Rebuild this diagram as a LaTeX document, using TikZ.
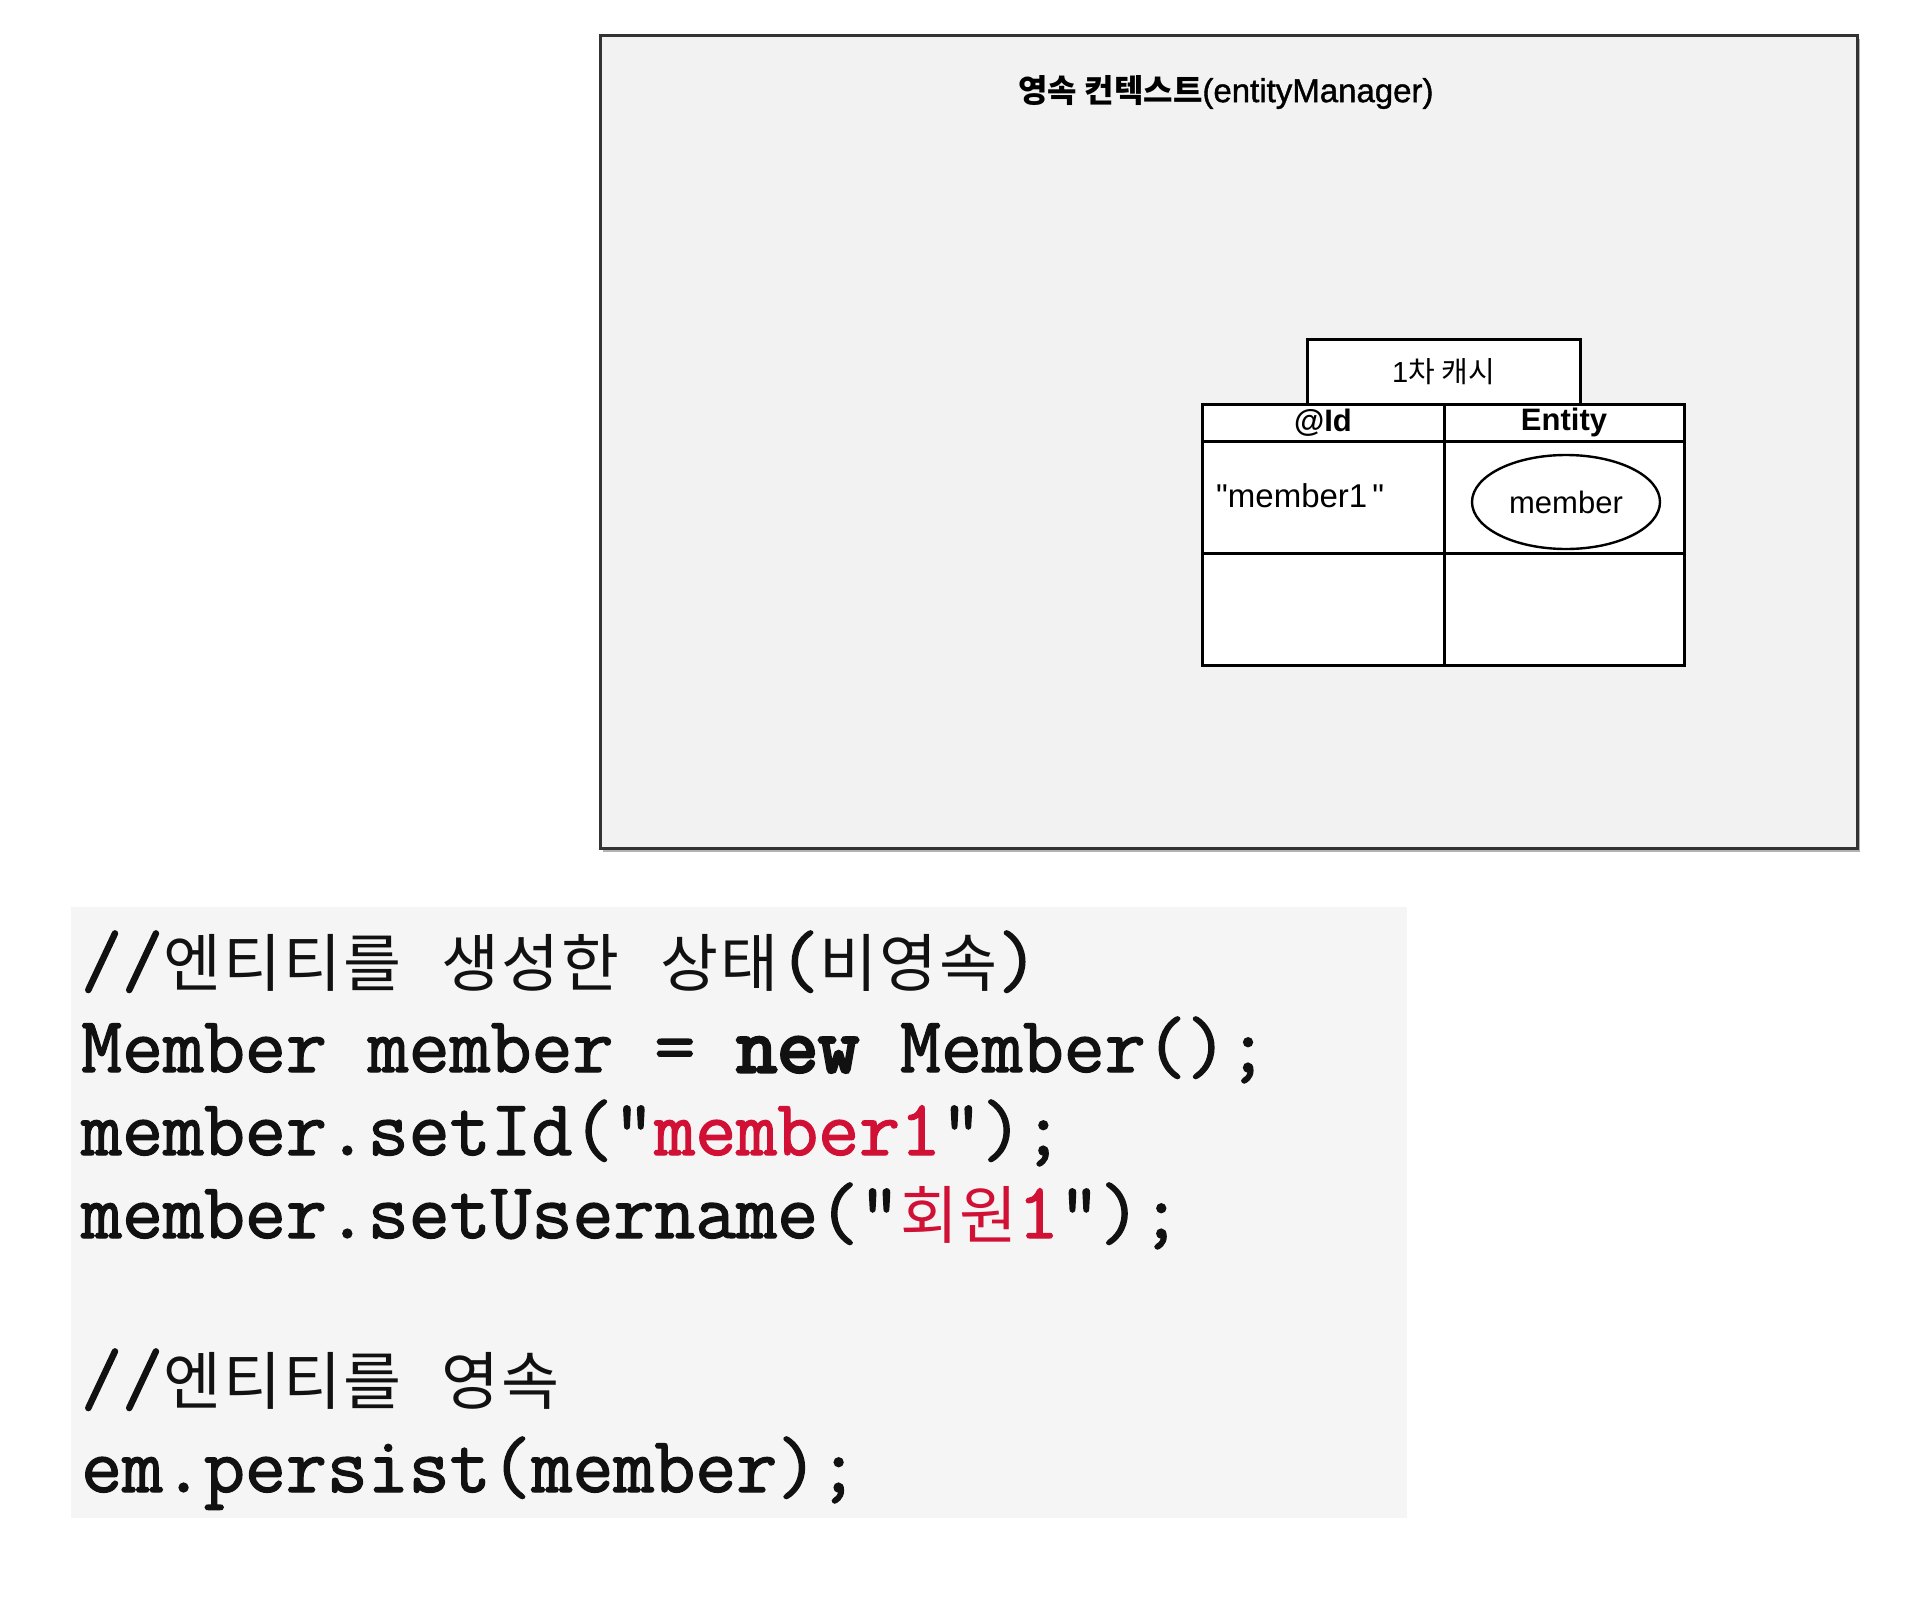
\documentclass[tikz,border=0pt]{standalone}
\usepackage{fontspec}
\setmainfont{Liberation Sans}[Ligatures=TeXOff]
\newfontfamily\cjk{Noto Sans CJK KR}[Ligatures=TeXOff]
\newfontfamily\cjkcode{Noto Sans CJK KR}[Ligatures=TeXOff,LetterSpace=3.2]
\newfontfamily\sansmed{Liberation Sans}[Ligatures=TeXOff,FakeBold=1.2]
\newfontfamily\code{Latin Modern Mono}[Ligatures=TeXOff,FakeBold=1.6]
\newfontfamily\codeheavy{Latin Modern Mono}[Ligatures=TeXOff,FakeBold=4]
\usetikzlibrary{shapes.geometric}
\definecolor{boxfill}{HTML}{F2F2F2}
\definecolor{codebg}{HTML}{F5F5F5}
\definecolor{strred}{RGB}{208,16,52}
\definecolor{ink}{HTML}{111111}
\newcommand\hk[1]{{\cjkcode\fontsize{63}{65}\selectfont #1}}
\newcommand\codefont{\code\fontsize{79.5}{82}\selectfont}
\tikzset{
  cell/.style={draw=black, line width=3pt, fill=white, inner sep=0pt, outer sep=0pt},
  codeline/.style={anchor=base west, inner sep=0pt, text=ink, font=\codefont},
  lbl/.style={inner sep=0pt, font=\fontsize{31}{34}\selectfont},
}
\begin{document}
\begin{tikzpicture}[x=1pt,y=-1pt]
\useasboundingbox[fill=white] (0,0) rectangle (1920,1603);
% persistence context box
\fill[gray!60] (603,39) rectangle (1860,852);
\node[draw=black!80, line width=3pt, fill=boxfill, inner sep=0pt,
      minimum width=1257pt, minimum height=813pt, anchor=north west] (pc) at (599,34) {};
\node[lbl, font=\sansmed\fontsize{33}{35}\selectfont] (title) at (1226,92)
  {{\cjk\bfseries\fontsize{32}{34}\selectfont 영속 컨텍스트}(entityManager)};
% first-level cache
\node[cell, minimum width=273pt, minimum height=65pt, anchor=north west] (cache) at (1307,339) {};
\node[lbl, font=\fontsize{29}{30}\selectfont] (cachelbl) at (cache.center) {1{\cjk 차 캐시}};
\node[cell, minimum width=242pt, minimum height=37pt, anchor=north west] (idh) at (1202,404) {};
\node[cell, minimum width=240pt, minimum height=37pt, anchor=north west] (enth) at (1444,404) {};
\node[cell, minimum width=242pt, minimum height=112pt, anchor=north west] (idv) at (1202,441) {};
\node[cell, minimum width=240pt, minimum height=112pt, anchor=north west] (entv) at (1444,441) {};
\node[cell, minimum width=242pt, minimum height=112pt, anchor=north west] (idv2) at (1202,553) {};
\node[cell, minimum width=240pt, minimum height=112pt, anchor=north west] (entv2) at (1444,553) {};
\node[lbl, font=\bfseries\fontsize{31}{34}\selectfont] (idt) at (idh.center) {@Id};
\node[lbl, font=\bfseries\fontsize{31}{34}\selectfont] (entt) at (enth.center) {Entity};
\node[lbl, anchor=west, font=\fontsize{33}{35}\selectfont] (m1) at (1216,496) {"member1\kern5pt"};
\node[ellipse, draw=black, line width=2.4pt, fill=white, minimum width=188pt, minimum height=94pt,
      inner sep=0pt, font=\fontsize{31}{34}\selectfont] (mem) at (1566,502) {member};
% code block
\fill[codebg] (71,907) rectangle (1407,1518);
\node[codeline] (c1) at (81,986) {//\hk{엔티티를} \hk{생성한} \hk{상태}(\hk{비영속})};
\node[codeline] (c2) at (81,1072) {Member member = {\codeheavy new} Member();};
\node[codeline] (c3) at (81,1155) {member.setId("\textcolor{strred}{member1}");};
\node[codeline] (c4) at (81,1238) {member.setUsername("\textcolor{strred}{\hk{회원}1}");};
\node[codeline] (c5) at (81,1404) {//\hk{엔티티를} \hk{영속}};
\node[codeline] (c6) at (81,1492) {em.persist(member);};
\end{tikzpicture}
\end{document}
